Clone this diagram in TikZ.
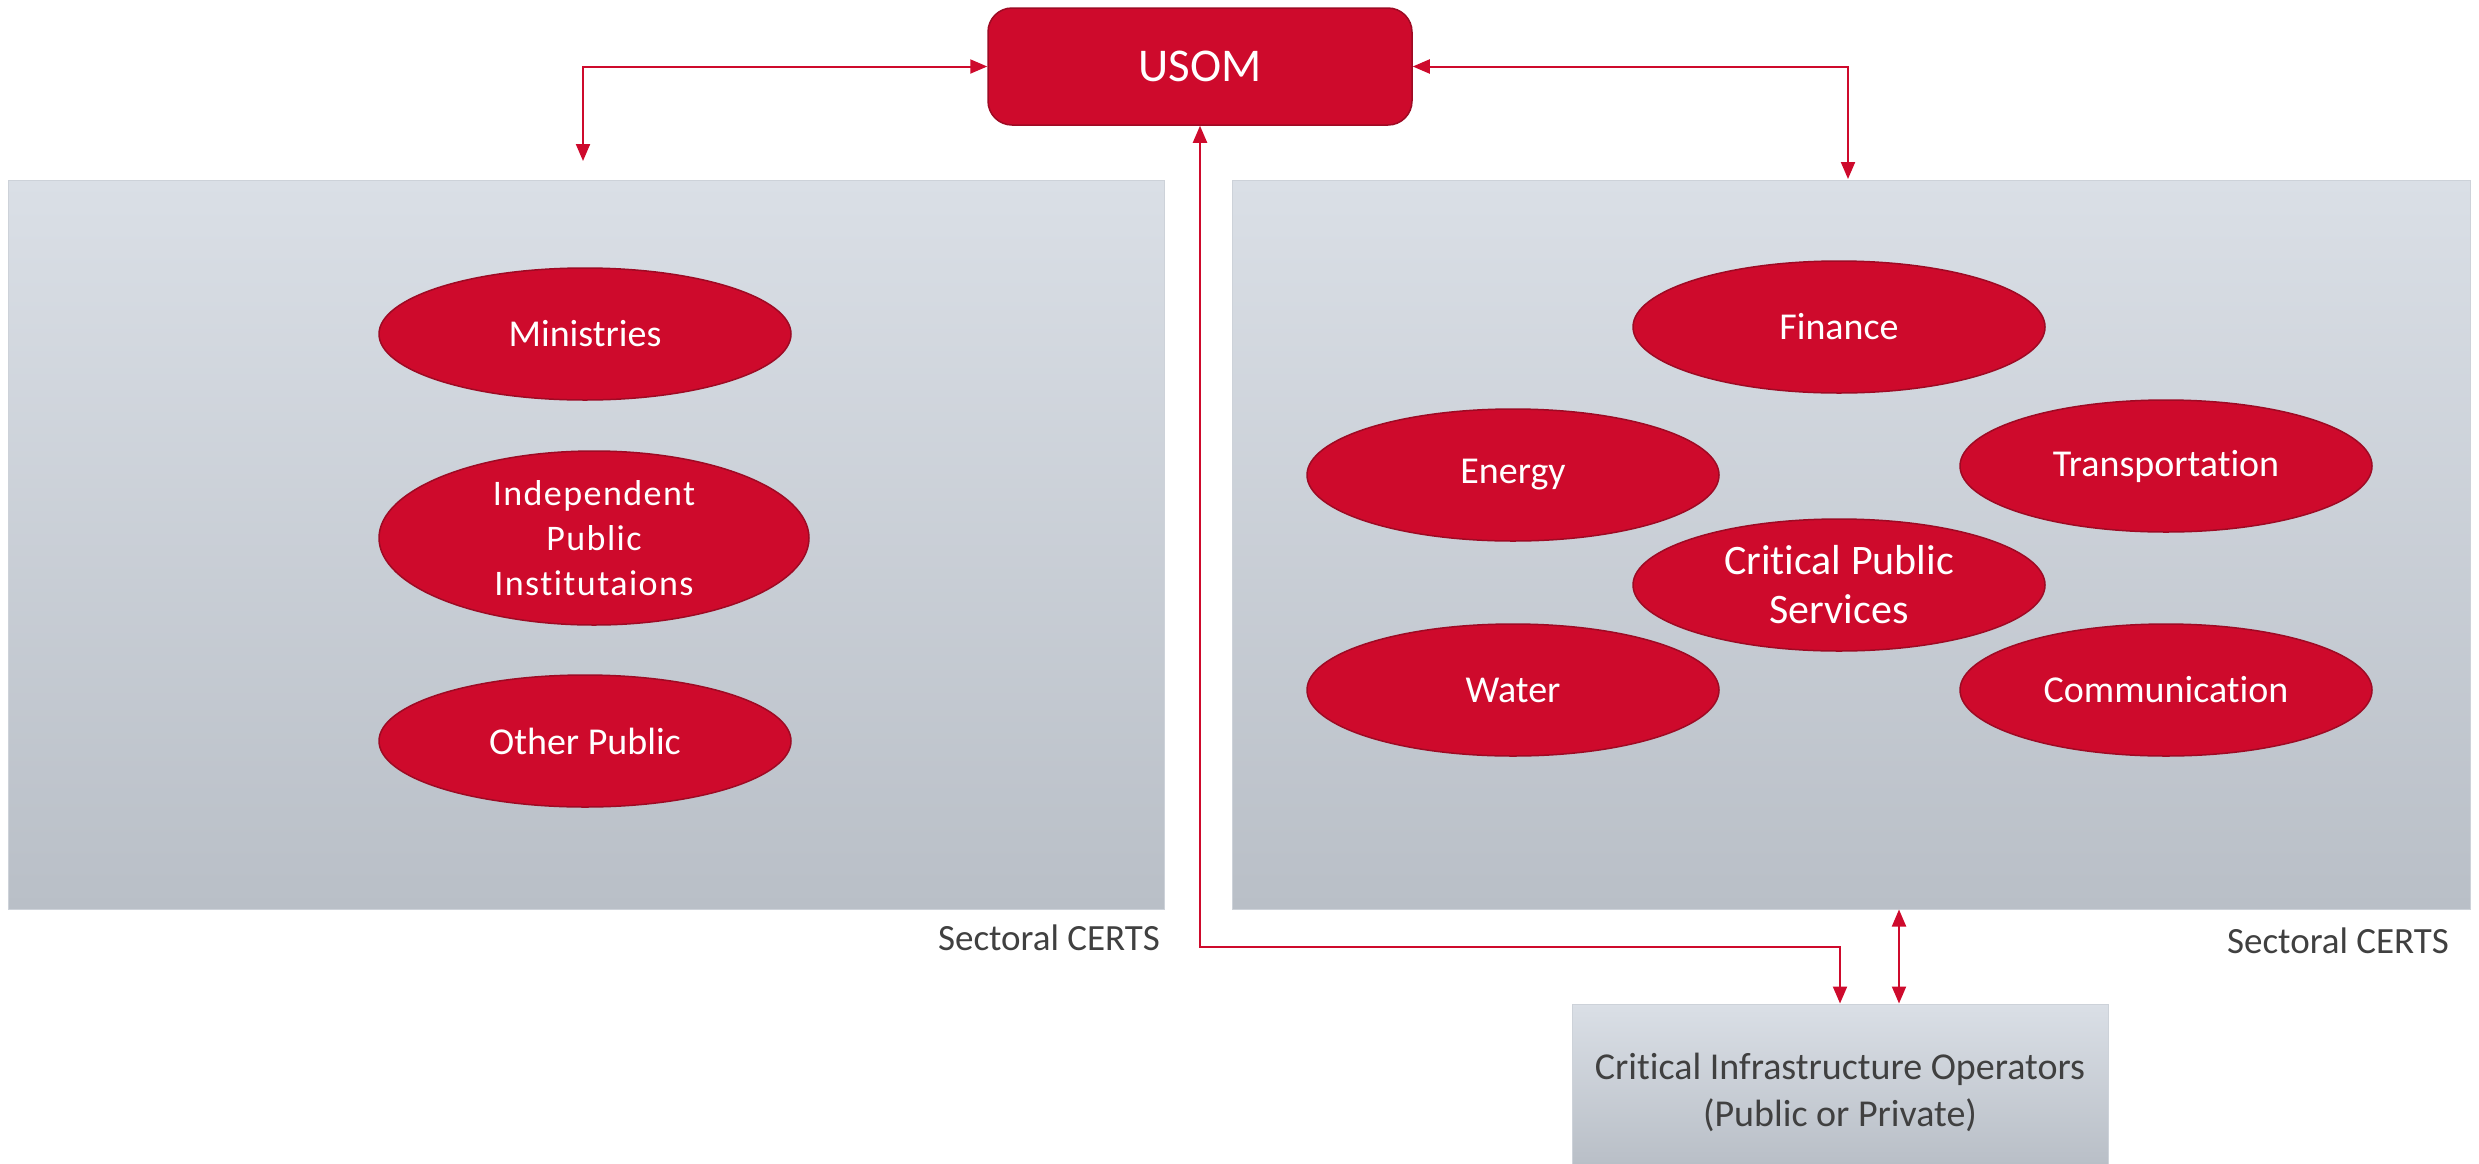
\documentclass[tikz,border=0pt]{standalone}
\usepackage{fontspec}
\setmainfont{Carlito}[Ligatures=NoCommon,Contextuals=NoAlternate]
\usetikzlibrary{shapes.geometric,arrows.meta}
\definecolor{usred}{HTML}{CE0A2C}
\definecolor{usdark}{HTML}{9E0A24}
\definecolor{pantop}{HTML}{DADFE6}
\definecolor{panbot}{HTML}{B9BFC7}
\definecolor{panedge}{HTML}{CDD2D9}
\definecolor{txtgray}{HTML}{404040}
\begin{document}
\begin{tikzpicture}[x=1pt,y=-1pt,
 panel/.style={rectangle, draw=panedge, line width=1pt, top color=pantop, bottom color=panbot, inner sep=0pt},
 oval/.style={ellipse, fill=usred, draw=usdark, line width=1.5pt, text=white, inner sep=0pt,
   minimum width=412pt, minimum height=132pt, align=center, font=\fontsize{38}{46}\selectfont},
 link/.style={draw=usred, line width=2pt, {Triangle[length=17pt,width=14pt]}-{Triangle[length=17pt,width=14pt]}},
 lbl/.style={text=txtgray, inner sep=0pt, font=\fontsize{37}{44}\selectfont},
]
\useasboundingbox (0,0) rectangle (2479,1163);
\fill[white] (0,0) rectangle (2479,1163);

% panels
\node[panel, minimum width=1156pt, minimum height=729pt] (lp) at (586,544.5) {};
\node[panel, minimum width=1238pt, minimum height=729pt] (rp) at (1851,544.5) {};
\node[panel, minimum width=536pt, minimum height=160pt] (cio) at (1840,1084) {};
\node[text=txtgray, align=center, inner sep=0pt, font=\fontsize{38}{47}\selectfont]
  (ciotxt) at (1840,1092) {Critical Infrastructure Operators\\(Public or Private)};

% USOM
\node[rectangle, rounded corners=24pt, fill=usred, draw=usdark, line width=1.5pt,
  minimum width=424pt, minimum height=117pt, text=white, font=\fontsize{47}{56}\selectfont]
  (usom) at (1200,66.5) {USOM};

% left ellipses
\node[oval] (min) at (585,334) {Ministries};
\node[oval, minimum width=430pt, minimum height=174pt, font=\fontsize{36}{45}\selectfont\addfontfeatures{LetterSpace=4}]
  (ind) at (594,538) {Independent\\Public\\Institutaions};
\node[oval] (oth) at (585,741) {Other Public};

% right ellipses
\node[oval] (fin) at (1839,327) {Finance};
\node[oval] (ene) at (1513,475) {Energy};
\node[oval] (tra) at (2166,466) {Transportation};
\node[oval, font=\fontsize{42}{49}\selectfont] (cps) at (1839,585) {Critical Public\\Services};
\node[oval] (wat) at (1513,690) {Water};
\node[oval] (com) at (2166,690) {Communication};

% labels
\node[lbl, anchor=base east] (lcap) at (1160,950) {Sectoral CERTS};
\node[lbl, anchor=base east] (rcap) at (2449,953) {Sectoral CERTS};

% connectors
\coordinate (lpA) at (583,161);
\coordinate (rpA) at (1848,179);
\coordinate (bend) at (1200,947);
\coordinate (vx) at (1899,0);
\draw[link] (usom.west) -| (lpA);
\draw[link] (usom.east) -| (rpA);
\draw[link] (usom.south) -- (bend) -| (cio.north);
\draw[link] (rp.south -| vx) -- (cio.north -| vx);
\end{tikzpicture}
\end{document}
